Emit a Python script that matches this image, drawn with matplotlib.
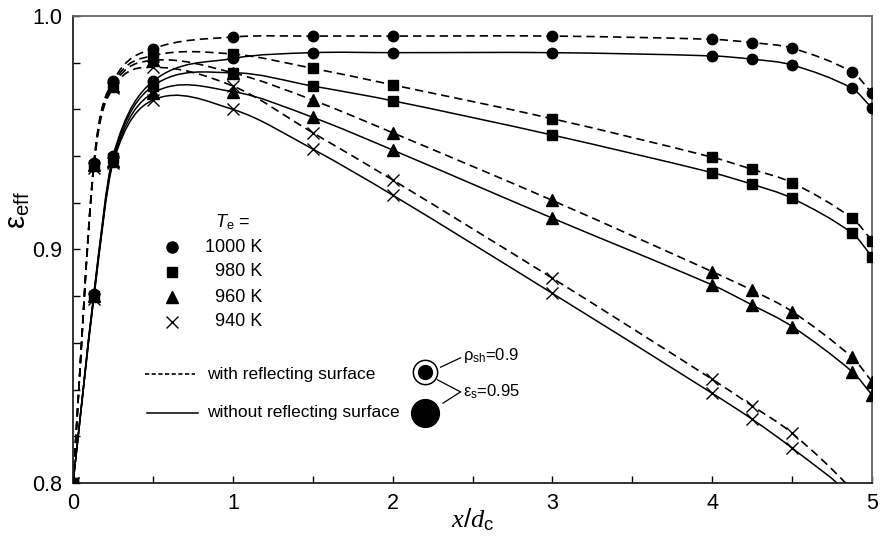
import numpy as np
import matplotlib
matplotlib.use('Agg')
import matplotlib.pyplot as plt
from matplotlib.path import Path
from matplotlib.patches import PathPatch

plt.rcParams['font.family'] = ['Liberation Sans', 'DejaVu Sans']
plt.rcParams['mathtext.fontset'] = 'custom'
plt.rcParams['mathtext.rm'] = 'Liberation Sans'
plt.rcParams['mathtext.it'] = 'Liberation Serif:italic'
plt.rcParams['mathtext.sf'] = 'Liberation Sans:italic'

# x/d_c positions of the computed points
x_pos = [0, 0.13, 0.25, 0.5, 1, 1.5, 2, 3, 4, 4.25, 4.5, 4.875, 5]

# effective emissivity, with reflecting surface (dashed)
with_1000 = [0.800, 0.937, 0.972, 0.986, 0.991, 0.9914, 0.9914, 0.9914, 0.990, 0.9886, 0.9862, 0.976, 0.967]
with_980 = [0.800, 0.936, 0.971, 0.983, 0.9837, 0.9776, 0.9705, 0.956, 0.9395, 0.9343, 0.9286, 0.9134, 0.9038]
with_960 = [0.800, 0.936, 0.970, 0.981, 0.9757, 0.964, 0.950, 0.921, 0.8905, 0.8825, 0.8734, 0.8538, 0.8434]
with_940 = [0.800, 0.935, 0.969, 0.978, 0.970, 0.950, 0.9298, 0.8877, 0.8444, 0.833, 0.8213, 0.797, 0.784]

# without reflecting surface (solid)
without_1000 = [0.800, 0.881, 0.940, 0.972, 0.9818, 0.9843, 0.9843, 0.9843, 0.9829, 0.9815, 0.979, 0.969, 0.9605]
without_980 = [0.800, 0.880, 0.939, 0.970, 0.9757, 0.970, 0.9637, 0.949, 0.9329, 0.9279, 0.9219, 0.907, 0.8969]
without_960 = [0.800, 0.880, 0.938, 0.967, 0.9676, 0.9566, 0.9426, 0.9134, 0.8848, 0.8762, 0.867, 0.8477, 0.8377]
without_940 = [0.800, 0.879, 0.937, 0.964, 0.960, 0.943, 0.9233, 0.8812, 0.8384, 0.8273, 0.8149, 0.794, 0.780]

temps = ['1000 K', '980 K', '960 K', '940 K']
markers = ['o', 's', '^', 'x']
msizes = [7.5, 6.5, 8, 8]


def smooth_path(x, y):
    # cubic Hermite segments (Catmull-Rom tangents) as Bezier curves
    x = np.asarray(x, float)
    y = np.asarray(y, float)
    n = len(x)
    m = np.zeros(n)
    m[0] = (y[1] - y[0]) / (x[1] - x[0])
    m[-1] = (y[-1] - y[-2]) / (x[-1] - x[-2])
    for i in range(1, n - 1):
        m[i] = (y[i + 1] - y[i - 1]) / (x[i + 1] - x[i - 1])
    verts = [(x[0], y[0])]
    codes = [Path.MOVETO]
    for i in range(n - 1):
        h = x[i + 1] - x[i]
        verts += [(x[i] + h / 3, y[i] + m[i] * h / 3),
                  (x[i + 1] - h / 3, y[i + 1] - m[i + 1] * h / 3),
                  (x[i + 1], y[i + 1])]
        codes += [Path.CURVE4] * 3
    return Path(verts, codes)


fig = plt.figure(figsize=(8.8, 5.37), dpi=100)
ax = fig.add_axes([0.083, 0.1006, 0.908, 0.8696])

series_with = [with_1000, with_980, with_960, with_940]
series_without = [without_1000, without_980, without_960, without_940]

for ys, mk, ms in zip(series_with, markers, msizes):
    ax.add_patch(PathPatch(smooth_path(x_pos, ys), fill=False, lw=1.2,
                           ls=(0, (5, 3)), color='black', zorder=2))
    ax.plot(x_pos, ys, ls='none', marker=mk, ms=ms, color='black',
            mew=1.0, zorder=3)
for ys, mk, ms in zip(series_without, markers, msizes):
    ax.add_patch(PathPatch(smooth_path(x_pos, ys), fill=False, lw=1.1,
                           color='black', zorder=2))
    ax.plot(x_pos, ys, ls='none', marker=mk, ms=ms, color='black',
            mew=1.0, zorder=3)

ax.set_xlim(0, 5)
ax.set_ylim(0.8, 1.0)
ax.set_xticks([0, 1, 2, 3, 4, 5])
ax.set_xticks(np.arange(0, 5.01, 0.5), minor=True)
ax.set_yticks([0.8, 0.9, 1.0])
ax.set_yticks(np.arange(0.8, 1.001, 0.02), minor=True)
ax.set_xticklabels(['0', '1', '2', '3', '4', '5'])
ax.set_yticklabels(['0.8', '0.9', '1.0'])
ax.tick_params(which='both', direction='in', labelsize=15.5, width=1.0)
ax.tick_params(which='major', length=5)
ax.tick_params(which='minor', length=5)
ax.tick_params(axis='x', which='major', pad=7)
ax.tick_params(axis='y', which='major', pad=8)
for s in ['left', 'bottom']:
    ax.spines[s].set_linewidth(1.3)
    ax.spines[s].set_color('#222222')
for s in ['top', 'right']:
    ax.spines[s].set_linewidth(1.3)
    ax.spines[s].set_color('#666666')

ax.set_ylabel('ε$_{\\mathrm{eff}}$', fontsize=21)
ax.yaxis.set_label_coords(-0.051, 0.585)
ax.set_xlabel('$x/d_\\mathrm{c}$', fontsize=19)
ax.xaxis.set_label_coords(0.5, -0.05)

# legend for temperatures
ax.text(0.178, 0.559, '$\\mathsf{T}_\\mathrm{e}$ =', transform=ax.transAxes,
        fontsize=13, va='center', ha='left')
rows = [0.505, 0.452, 0.398, 0.345]
for lab, mk, ms, yr in zip(temps, markers, msizes, rows):
    ax.plot([0.124], [yr], marker=mk, ms=ms + 0.5, color='black', ls='none',
            mew=1.0, transform=ax.transAxes, clip_on=False)
    ax.text(0.237, yr, lab, transform=ax.transAxes, fontsize=13,
            va='center', ha='right')

# legend for line styles
ax.plot([0.090, 0.153], [0.233, 0.233], color='black', lw=1.2,
        ls=(0, (2.5, 1.5)), transform=ax.transAxes)
ax.text(0.168, 0.233, 'with reflecting surface', transform=ax.transAxes,
        fontsize=12.5, va='center', ha='left')
ax.plot([0.093, 0.156], [0.15, 0.15], color='black', lw=1.1,
        transform=ax.transAxes)
ax.text(0.168, 0.15, 'without reflecting surface', transform=ax.transAxes,
        fontsize=12.5, va='center', ha='left')

# sketch of the sphere configurations
ax.plot([0.441], [0.238], marker='o', ms=17.5, mfc='white', mec='black',
        mew=1.1, transform=ax.transAxes)
ax.plot([0.441], [0.238], marker='o', ms=10, color='black',
        transform=ax.transAxes)
ax.plot([0.441], [0.15], marker='o', ms=20, color='black',
        transform=ax.transAxes)
ax.plot([0.460, 0.485], [0.248, 0.268], color='black', lw=0.9,
        transform=ax.transAxes)
ax.plot([0.456, 0.485, 0.463], [0.221, 0.195, 0.171], color='black',
        lw=0.9, transform=ax.transAxes)
ax.text(0.488, 0.274, 'ρ$_{\\mathrm{sh}}$=0.9', transform=ax.transAxes,
        fontsize=12, va='center', ha='left')
ax.text(0.488, 0.195, 'ε$_{\\mathrm{s}}$=0.95', transform=ax.transAxes,
        fontsize=12, va='center', ha='left')

fig.savefig('out.png', dpi=100)
